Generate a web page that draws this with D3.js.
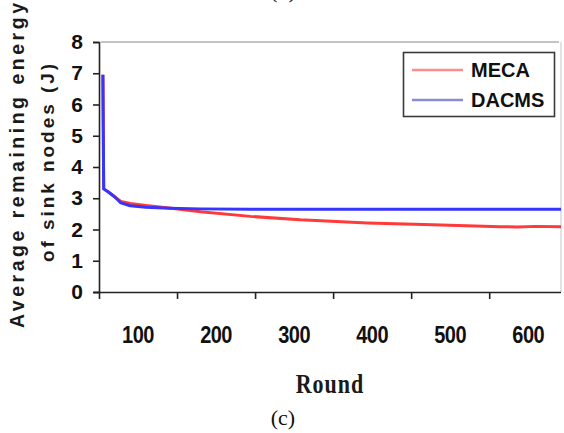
<!DOCTYPE html>
<html>
<head>
<meta charset="utf-8">
<script src="https://cdn.jsdelivr.net/npm/d3@7"></script>
<style>
  html, body { margin: 0; padding: 0; background: #fff; }
  svg { display: block; }
</style>
</head>
<body>
<svg id="chart" width="564" height="433"></svg>
<script>
// Simulation rounds (x) and average remaining energy of sink nodes (J)
const rounds = [5, 6, 12, 20, 28, 40, 60, 90, 130, 194, 258, 344, 428, 514, 536, 560, 592];
const meca   = [6.95, 3.3, 3.2, 3.05, 2.9, 2.83, 2.77, 2.69, 2.57, 2.42, 2.31, 2.21, 2.15, 2.09, 2.08, 2.1, 2.09];
const dacms  = [6.95, 3.3, 3.2, 3.05, 2.85, 2.76, 2.71, 2.68, 2.66, 2.65, 2.65, 2.65, 2.65, 2.65, 2.65, 2.65, 2.65];

const seriesNames = ["MECA", "DACMS"];
const seriesColors = ["#ff3a3a", "#3535ff"];
const legendColors = ["#ff8c8c", "#8a8ad2"];

const yTicks = [0, 1, 2, 3, 4, 5, 6, 7, 8];
const xTickMarks = [0, 100, 200, 300, 400, 500];
const xTickLabels = ["100", "200", "300", "400", "500", "600"];

const svg = d3.select("#chart");

const x = d3.scaleLinear().domain([0, 592]).range([99, 561]);
const y = d3.scaleLinear().domain([0, 8]).range([292, 42]);

// partial caption of the panel above
svg.append("text")
  .attr("x", 283).attr("y", -2)
  .attr("text-anchor", "middle")
  .attr("font-family", "Liberation Serif, serif")
  .attr("font-size", 22)
  .attr("fill", "#222")
  .text("(b)");

// plot frame: top gridline and light right border
svg.append("line")
  .attr("x1", x(0) + 2).attr("x2", x.range()[1] - 2)
  .attr("y1", y(8)).attr("y2", y(8))
  .attr("stroke", "#c4c4c4").attr("stroke-width", 2);
svg.append("line")
  .attr("x1", x.range()[1]).attr("x2", x.range()[1])
  .attr("y1", y(8)).attr("y2", y(0))
  .attr("stroke", "#cfcfcf").attr("stroke-width", 1.2);

// y axis
const yAxis = d3.axisLeft(y).tickValues(yTicks).tickSize(6).tickPadding(10)
  .tickFormat(d3.format("d"));
const gy = svg.append("g").attr("transform", `translate(${x(0)},0)`).call(yAxis);
gy.select(".domain").attr("stroke", "#222").attr("stroke-width", 1.6);
gy.selectAll(".tick line").attr("stroke", "#222").attr("stroke-width", 1.6);
gy.selectAll(".tick text")
  .attr("font-family", "Liberation Sans, Arial, sans-serif")
  .attr("font-weight", "bold")
  .attr("font-size", 21)
  .attr("fill", "#111");

// x axis: tick marks at every 100 rounds, labels centred between marks
const xAxis = d3.axisBottom(x).tickValues(xTickMarks).tickSize(7).tickSizeOuter(0).tickFormat("");
const gx = svg.append("g").attr("transform", `translate(0,${y(0)})`).call(xAxis);
gx.select(".domain").attr("stroke", "#222").attr("stroke-width", 1.6)
  .attr("d", `M${x(0) - 5},0.5H${x.range()[1]}`);
gx.selectAll(".tick line").attr("stroke", "#222").attr("stroke-width", 1.6);

svg.append("g").selectAll("text")
  .data(xTickLabels)
  .join("text")
  .attr("transform", (d, i) => `translate(${x(xTickMarks[i] + 50)},343) scale(1,1.2)`)
  .attr("text-anchor", "middle")
  .attr("font-family", "Liberation Sans, Arial, sans-serif")
  .attr("font-weight", "bold")
  .attr("font-size", 20)
  .attr("letter-spacing", -0.5)
  .attr("fill", "#111")
  .text(d => d);

// axis titles
svg.append("text")
  .attr("transform", "translate(330,393) scale(1,1.2)")
  .attr("text-anchor", "middle")
  .attr("font-family", "Liberation Serif, serif")
  .attr("font-weight", "bold")
  .attr("font-size", 22)
  .attr("letter-spacing", 1)
  .attr("fill", "#1a1a1a")
  .text("Round");

svg.append("text")
  .attr("transform", "translate(24,328) rotate(-90)")
  .attr("font-family", "Liberation Sans, Arial, sans-serif")
  .attr("font-weight", "bold")
  .attr("font-size", 19.5)
  .attr("textLength", 325)
  .attr("lengthAdjust", "spacing")
  .attr("fill", "#1a1a1a")
  .text("Average remaining energy");

svg.append("text")
  .attr("transform", "translate(54,262) rotate(-90)")
  .attr("font-family", "Liberation Sans, Arial, sans-serif")
  .attr("font-weight", "bold")
  .attr("font-size", 19)
  .attr("textLength", 198)
  .attr("lengthAdjust", "spacing")
  .attr("fill", "#1a1a1a")
  .text("of sink nodes (J)");

// caption
svg.append("text")
  .attr("x", 283).attr("y", 425)
  .attr("text-anchor", "middle")
  .attr("font-family", "Liberation Serif, serif")
  .attr("font-size", 22)
  .attr("fill", "#111")
  .text("(c)");

// series lines
const line = d3.line().x(d => x(d[0])).y(d => y(d[1]));
const series = [meca, dacms];
series.forEach((vals, i) => {
  svg.append("path")
    .datum(rounds.map((r, j) => [r, vals[j]]))
    .attr("fill", "none")
    .attr("stroke", seriesColors[i])
    .attr("stroke-width", 3)
    .attr("stroke-linejoin", "round")
    .attr("d", line);
});

// legend
const lg = svg.append("g");
lg.append("rect")
  .attr("x", 403.5).attr("y", 52.5).attr("width", 151).attr("height", 64)
  .attr("fill", "#fff").attr("stroke", "#3a3a3a").attr("stroke-width", 1.6);
seriesNames.forEach((name, i) => {
  const ly = 70 + i * 30;
  lg.append("line")
    .attr("x1", 412).attr("x2", 463).attr("y1", ly).attr("y2", ly)
    .attr("stroke", legendColors[i]).attr("stroke-width", 2.5);
  lg.append("text")
    .attr("x", 471).attr("y", ly + 7)
    .attr("font-family", "Liberation Sans, Arial, sans-serif")
    .attr("font-weight", "bold")
    .attr("font-size", 20)
    .attr("fill", "#111")
    .text(name);
});
</script>
</body>
</html>
